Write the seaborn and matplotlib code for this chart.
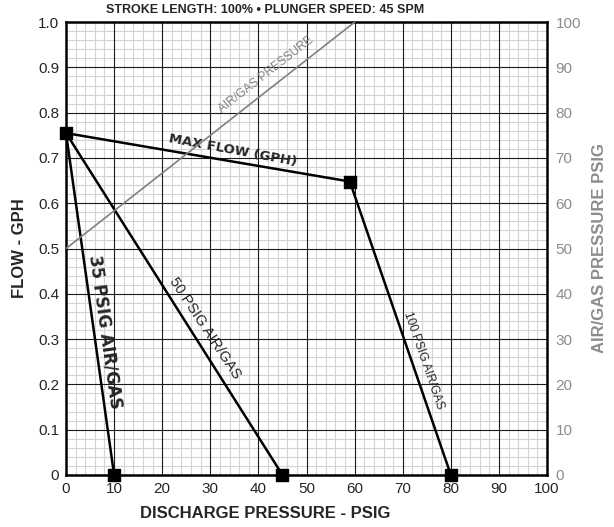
import matplotlib
matplotlib.use("Agg")
import matplotlib.pyplot as plt
import seaborn as sns
import pandas as pd
import numpy as np

sns.set_style("white")
plt.rcParams['font.family'] = ['Liberation Sans Narrow', 'Liberation Sans', 'DejaVu Sans']

# Data
max_flow_x = [0, 59]
max_flow_y = [0.755, 0.648]
curve_names = ["35 PSIG AIR/GAS", "50 PSIG AIR/GAS", "100 PSIG AIR/GAS"]
curve_x = [[0, 10], [0, 45], [59, 80]]
curve_y = [[0.755, 0.0], [0.755, 0.0], [0.648, 0.0]]
airgas_x = [0, 60]
airgas_psig = [50, 100]
x_ticks = [0, 10, 20, 30, 40, 50, 60, 70, 80, 90, 100]
y_ticks = [0, 0.1, 0.2, 0.3, 0.4, 0.5, 0.6, 0.7, 0.8, 0.9, 1.0]
y_ticklabels = ["0", "0.1", "0.2", "0.3", "0.4", "0.5", "0.6", "0.7", "0.8", "0.9", "1.0"]
r_ticks = [0, 10, 20, 30, 40, 50, 60, 70, 80, 90, 100]

fig = plt.figure(figsize=(6.14, 5.27), dpi=100)
ax = fig.add_axes([0.1075, 0.0987, 0.7835, 0.8593])
ax.set_xlim(0, 100)
ax.set_ylim(0, 1.0)

# grid
for v in np.arange(0, 101, 2):
    if v % 10:
        ax.axvline(v, color="#d4d4d4", lw=0.8, zorder=0)
for v in np.arange(0, 1.001, 0.02):
    if round(v * 100) % 10:
        ax.axhline(v, color="#d4d4d4", lw=0.8, zorder=0)
for v in x_ticks[1:-1]:
    ax.axvline(v, color="#1a1a1a", lw=0.8, zorder=1)
for v in y_ticks[1:-1]:
    ax.axhline(v, color="#1a1a1a", lw=0.8, zorder=1)

# right axis
ax2 = ax.twinx()
ax2.set_ylim(0, 100)
sns.lineplot(x=airgas_x, y=airgas_psig, ax=ax2, color="#808080", lw=1.2)
ax2.set_yticks(r_ticks)
ax2.tick_params(axis='y', colors="#8c8c8c", labelsize=11, length=0, pad=6)
ax2.set_ylabel("AIR/GAS PRESSURE PSIG", color="#8c8c8c", fontsize=12, fontweight="bold",
               family=['Liberation Sans', 'DejaVu Sans'], labelpad=8)
for s in ax2.spines.values():
    s.set_visible(False)

sns.lineplot(x=max_flow_x, y=max_flow_y, ax=ax, color="black", lw=1.8, zorder=4)
for cx, cy in zip(curve_x, curve_y):
    sns.lineplot(x=cx, y=cy, ax=ax, color="black", lw=1.8, zorder=4)
mx = [max_flow_x[0], max_flow_x[1]] + [c[1] for c in curve_x]
my = [max_flow_y[0], max_flow_y[1]] + [c[1] for c in curve_y]
ax.scatter(mx, my, marker="s", s=70, color="black", zorder=6, clip_on=False)

ax.set_xticks(x_ticks)
ax.set_yticks(y_ticks)
ax.set_yticklabels(y_ticklabels)
ax.tick_params(axis='both', labelsize=11, length=0, pad=5)
for s in ax.spines.values():
    s.set_linewidth(1.8)
    s.set_color("black")
ax.set_ylabel("FLOW - GPH", fontsize=12, fontweight="bold",
              family=['Liberation Sans', 'DejaVu Sans'], labelpad=8)
fig.text(265 / 614, 1 - 10 / 527, "STROKE LENGTH: 100% • PLUNGER SPEED: 45 SPM",
         fontsize=9, fontweight="bold", family=['Liberation Sans', 'DejaVu Sans'],
         ha="center", va="center")
fig.text(265 / 614, 1 - 513 / 527, "DISCHARGE PRESSURE - PSIG",
         fontsize=12, fontweight="bold", family=['Liberation Sans', 'DejaVu Sans'],
         ha="center", va="center")

famb = ['DejaVu Sans']
famr = ['Liberation Sans', 'DejaVu Sans']
ax.text(34.7, 0.717, "MAX FLOW (GPH)", rotation=-10.5, ha="center", va="center",
        fontsize=9.5, fontweight="bold", family=famb, zorder=7)
ax.text(8.1, 0.316, curve_names[0], rotation=-82, ha="center", va="center",
        fontsize=12, fontweight="bold", family=famb, zorder=7)
ax.text(28.8, 0.325, curve_names[1], rotation=-56.5, ha="center", va="center",
        fontsize=10.5, family=famr, zorder=7)
ax.text(74.4, 0.254, curve_names[2], rotation=-71, ha="center", va="center",
        fontsize=8.6, family=famr, zorder=7)
ax.text(41.5, 0.884, "AIR/GAS PRESSURE", rotation=38, ha="center", va="center",
        fontsize=8.6, color="#808080", family=famr, zorder=7)

fig.savefig("out.png", dpi=100)
